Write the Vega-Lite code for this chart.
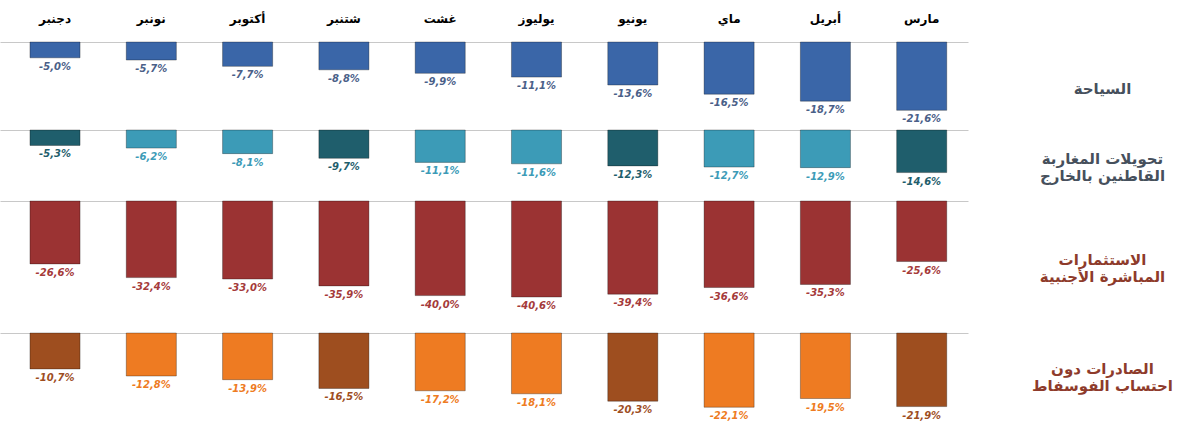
{
  "$schema": "https://vega.github.io/schema/vega-lite/v6.json",
  "padding": {"left": 0, "top": 12, "right": 0, "bottom": 0},
  "background": "white",
  "config": {"view": {"stroke": null}, "font": "DejaVu Sans", "concat": {"spacing": 0}},
  "resolve": {"scale": {"color": "independent", "x": "independent", "y": "independent"}},
  "data": {"values": [
    {"ind": "t", "month": "دجنبر", "v": -5.0, "label": "-5,0%"},
    {"ind": "t", "month": "نونبر", "v": -5.7, "label": "-5,7%"},
    {"ind": "t", "month": "أكتوبر", "v": -7.7, "label": "-7,7%"},
    {"ind": "t", "month": "شتنبر", "v": -8.8, "label": "-8,8%"},
    {"ind": "t", "month": "غشت", "v": -9.9, "label": "-9,9%"},
    {"ind": "t", "month": "يوليوز", "v": -11.1, "label": "-11,1%"},
    {"ind": "t", "month": "يونيو", "v": -13.6, "label": "-13,6%"},
    {"ind": "t", "month": "ماي", "v": -16.5, "label": "-16,5%"},
    {"ind": "t", "month": "أبريل", "v": -18.7, "label": "-18,7%"},
    {"ind": "t", "month": "مارس", "v": -21.6, "label": "-21,6%"},
    {"ind": "r", "month": "دجنبر", "v": -5.3, "label": "-5,3%"},
    {"ind": "r", "month": "نونبر", "v": -6.2, "label": "-6,2%"},
    {"ind": "r", "month": "أكتوبر", "v": -8.1, "label": "-8,1%"},
    {"ind": "r", "month": "شتنبر", "v": -9.7, "label": "-9,7%"},
    {"ind": "r", "month": "غشت", "v": -11.1, "label": "-11,1%"},
    {"ind": "r", "month": "يوليوز", "v": -11.6, "label": "-11,6%"},
    {"ind": "r", "month": "يونيو", "v": -12.3, "label": "-12,3%"},
    {"ind": "r", "month": "ماي", "v": -12.7, "label": "-12,7%"},
    {"ind": "r", "month": "أبريل", "v": -12.9, "label": "-12,9%"},
    {"ind": "r", "month": "مارس", "v": -14.6, "label": "-14,6%"},
    {"ind": "i", "month": "دجنبر", "v": -26.6, "label": "-26,6%"},
    {"ind": "i", "month": "نونبر", "v": -32.4, "label": "-32,4%"},
    {"ind": "i", "month": "أكتوبر", "v": -33.0, "label": "-33,0%"},
    {"ind": "i", "month": "شتنبر", "v": -35.9, "label": "-35,9%"},
    {"ind": "i", "month": "غشت", "v": -40.0, "label": "-40,0%"},
    {"ind": "i", "month": "يوليوز", "v": -40.6, "label": "-40,6%"},
    {"ind": "i", "month": "يونيو", "v": -39.4, "label": "-39,4%"},
    {"ind": "i", "month": "ماي", "v": -36.6, "label": "-36,6%"},
    {"ind": "i", "month": "أبريل", "v": -35.3, "label": "-35,3%"},
    {"ind": "i", "month": "مارس", "v": -25.6, "label": "-25,6%"},
    {"ind": "e", "month": "دجنبر", "v": -10.7, "label": "-10,7%"},
    {"ind": "e", "month": "نونبر", "v": -12.8, "label": "-12,8%"},
    {"ind": "e", "month": "أكتوبر", "v": -13.9, "label": "-13,9%"},
    {"ind": "e", "month": "شتنبر", "v": -16.5, "label": "-16,5%"},
    {"ind": "e", "month": "غشت", "v": -17.2, "label": "-17,2%"},
    {"ind": "e", "month": "يوليوز", "v": -18.1, "label": "-18,1%"},
    {"ind": "e", "month": "يونيو", "v": -20.3, "label": "-20,3%"},
    {"ind": "e", "month": "ماي", "v": -22.1, "label": "-22,1%"},
    {"ind": "e", "month": "أبريل", "v": -19.5, "label": "-19,5%"},
    {"ind": "e", "month": "مارس", "v": -21.9, "label": "-21,9%"}
  ]},
  "vconcat": [
    {
      "width": 968, "height": 87,
      "transform": [{"filter": "datum.ind === 't'"}],
      "encoding": {
        "x": {"field": "month", "type": "nominal", "sort": ["دجنبر","نونبر","أكتوبر","شتنبر","غشت","يوليوز","يونيو","ماي","أبريل","مارس"],
          "scale": {"paddingInner": 0.48, "paddingOuter": 0.266, "align": 0.585},
          "axis": {"orient": "top", "title": null, "ticks": false, "domainColor": "#c8c8c8", "labelAngle": 0, "labelFontWeight": "bold", "labelFontSize": 12, "labelPadding": 17, "labelColor": "#000"}},
        "y": {"field": "v", "type": "quantitative", "scale": {"domain": [-27.5, 0], "nice": false},
          "axis": {"orient": "right", "labels": false, "ticks": false, "domain": false, "grid": false, "title": "السياحة", "titleAngle": 0, "titleAlign": "center", "titleBaseline": "middle", "titleX": 134, "titleY": 46, "titleFontWeight": "bold", "titleFontSize": 15, "titleColor": "#46505c"}}
      },
      "layer": [
        {"mark": {"type": "bar", "color": "#3A66A8", "stroke": "#000", "strokeOpacity": 0.3}},
        {"mark": {"type": "text", "baseline": "top", "dy": 4, "fontStyle": "italic", "fontWeight": "bold", "fontSize": 10, "color": "#4a6088"}, "encoding": {"text": {"field": "label"}}}
      ]
    },
    {
      "width": 968, "height": 70,
      "transform": [{"filter": "datum.ind === 'r'"}],
      "encoding": {
        "x": {"field": "month", "type": "nominal", "sort": ["دجنبر","نونبر","أكتوبر","شتنبر","غشت","يوليوز","يونيو","ماي","أبريل","مارس"],
          "scale": {"paddingInner": 0.48, "paddingOuter": 0.266, "align": 0.585},
          "axis": {"orient": "top", "title": null, "ticks": false, "labels": false, "domainColor": "#c8c8c8"}},
        "y": {"field": "v", "type": "quantitative", "scale": {"domain": [-24, 0], "nice": false},
          "axis": {"orient": "right", "labels": false, "ticks": false, "domain": false, "grid": false, "title": ["تحويلات المغاربة", "القاطنين بالخارج"], "titleAngle": 0, "titleAlign": "center", "titleBaseline": "middle", "titleX": 134, "titleY": 28, "titleLineHeight": 17, "titleFontWeight": "bold", "titleFontSize": 15, "titleColor": "#46505c"}},
        "color": {"field": "month", "type": "nominal", "legend": null,
          "scale": {"domain": ["دجنبر","نونبر","أكتوبر","شتنبر","غشت","يوليوز","يونيو","ماي","أبريل","مارس"],
            "range": ["#1F5E6C","#3C9BB7","#3C9BB7","#1F5E6C","#3C9BB7","#3C9BB7","#1F5E6C","#3C9BB7","#3C9BB7","#1F5E6C"]}}
      },
      "layer": [
        {"mark": {"type": "bar", "stroke": "#000", "strokeOpacity": 0.3}},
        {"mark": {"type": "text", "baseline": "top", "dy": 4, "fontStyle": "italic", "fontWeight": "bold", "fontSize": 10}, "encoding": {"text": {"field": "label"}}}
      ]
    },
    {
      "width": 968, "height": 131,
      "transform": [{"filter": "datum.ind === 'i'"}],
      "encoding": {
        "x": {"field": "month", "type": "nominal", "sort": ["دجنبر","نونبر","أكتوبر","شتنبر","غشت","يوليوز","يونيو","ماي","أبريل","مارس"],
          "scale": {"paddingInner": 0.48, "paddingOuter": 0.266, "align": 0.585},
          "axis": {"orient": "top", "title": null, "ticks": false, "labels": false, "domainColor": "#c8c8c8"}},
        "y": {"field": "v", "type": "quantitative", "scale": {"domain": [-55.4, 0], "nice": false},
          "axis": {"orient": "right", "labels": false, "ticks": false, "domain": false, "grid": false, "title": ["الاستثمارات", "المباشرة الأجنبية"], "titleAngle": 0, "titleAlign": "center", "titleBaseline": "middle", "titleX": 134, "titleY": 58, "titleLineHeight": 17, "titleFontWeight": "bold", "titleFontSize": 15, "titleColor": "#8E3B2B"}}
      },
      "layer": [
        {"mark": {"type": "bar", "color": "#9B3333", "stroke": "#000", "strokeOpacity": 0.3}},
        {"mark": {"type": "text", "baseline": "top", "dy": 4, "fontStyle": "italic", "fontWeight": "bold", "fontSize": 10, "color": "#A53A3A"}, "encoding": {"text": {"field": "label"}}}
      ]
    },
    {
      "width": 968, "height": 85,
      "transform": [{"filter": "datum.ind === 'e'"}],
      "encoding": {
        "x": {"field": "month", "type": "nominal", "sort": ["دجنبر","نونبر","أكتوبر","شتنبر","غشت","يوليوز","يونيو","ماي","أبريل","مارس"],
          "scale": {"paddingInner": 0.48, "paddingOuter": 0.266, "align": 0.585},
          "axis": {"orient": "top", "title": null, "ticks": false, "labels": false, "domainColor": "#c8c8c8"}},
        "y": {"field": "v", "type": "quantitative", "scale": {"domain": [-25.3, 0], "nice": false},
          "axis": {"orient": "right", "labels": false, "ticks": false, "domain": false, "grid": false, "title": ["الصادرات دون", "احتساب الفوسفاط"], "titleAngle": 0, "titleAlign": "center", "titleBaseline": "middle", "titleX": 134, "titleY": 35, "titleLineHeight": 17, "titleFontWeight": "bold", "titleFontSize": 15, "titleColor": "#8E3B2B"}},
        "color": {"field": "month", "type": "nominal", "legend": null,
          "scale": {"domain": ["دجنبر","نونبر","أكتوبر","شتنبر","غشت","يوليوز","يونيو","ماي","أبريل","مارس"],
            "range": ["#9E4E1F","#EE7B22","#EE7B22","#9E4E1F","#EE7B22","#EE7B22","#9E4E1F","#EE7B22","#EE7B22","#9E4E1F"]}}
      },
      "layer": [
        {"mark": {"type": "bar", "stroke": "#000", "strokeOpacity": 0.3}},
        {"mark": {"type": "text", "baseline": "top", "dy": 4, "fontStyle": "italic", "fontWeight": "bold", "fontSize": 10}, "encoding": {"text": {"field": "label"}}}
      ]
    }
  ]
}
